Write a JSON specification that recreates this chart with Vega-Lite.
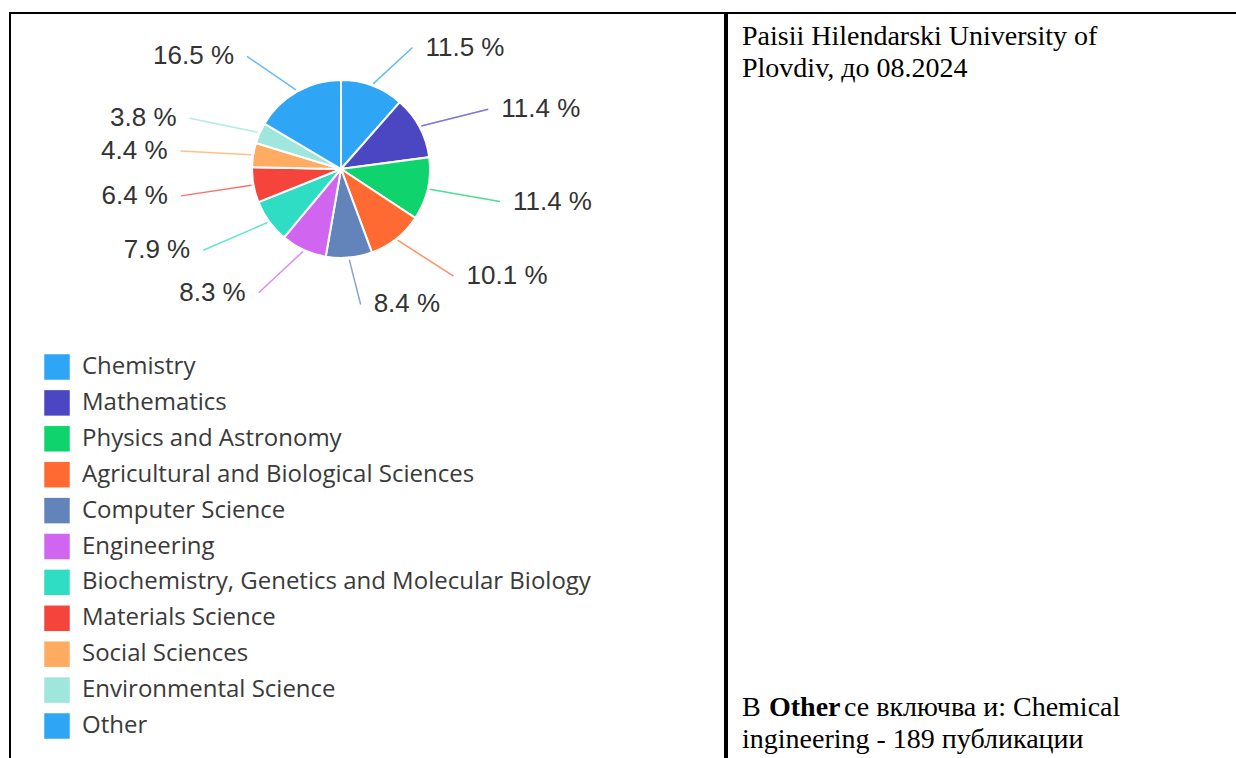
{
  "$schema": "https://vega.github.io/schema/vega-lite/v6.json",
  "padding": {"left": 9, "top": 12, "right": 0, "bottom": 0},
  "background": "white",
  "config": {
    "view": {"stroke": "#000000", "strokeWidth": 2},
    "concat": {"spacing": 0},
    "legend": {
      "orient": "none", "legendX": 34, "legendY": 341, "title": null,
      "symbolType": "square", "symbolSize": 650, "symbolStrokeWidth": 0, "symbolOpacity": 1,
      "labelFont": "Open Sans", "labelFontSize": 24, "labelColor": "#3a3a3a",
      "labelLimit": 800, "labelOffset": 12, "rowPadding": 9.9, "padding": 0
    }
  },
  "hconcat": [
    {
      "width": 715,
      "height": 760,
      "data": {
        "values": [
          {"subject": "Chemistry", "pct": 11.5},
          {"subject": "Mathematics", "pct": 11.4},
          {"subject": "Physics and Astronomy", "pct": 11.4},
          {"subject": "Agricultural and Biological Sciences", "pct": 10.1},
          {"subject": "Computer Science", "pct": 8.4},
          {"subject": "Engineering", "pct": 8.3},
          {"subject": "Biochemistry, Genetics and Molecular Biology", "pct": 7.9},
          {"subject": "Materials Science", "pct": 6.4},
          {"subject": "Social Sciences", "pct": 4.4},
          {"subject": "Environmental Science", "pct": 3.8},
          {"subject": "Other", "pct": 16.5}
        ]
      },
      "transform": [
        {"window": [{"op": "row_number", "as": "idx"}, {"op": "sum", "field": "pct", "as": "cum"}], "frame": [null, 0]},
        {"joinaggregate": [{"op": "sum", "field": "pct", "as": "total"}]},
        {"calculate": "2*PI*(datum.cum - datum.pct/2)/datum.total", "as": "mid"},
        {"calculate": "sin(datum.mid)", "as": "s"},
        {"calculate": "cos(datum.mid)", "as": "c"},
        {"calculate": "datum.s >= 0 ? 1 : -1", "as": "side"},
        {"calculate": "91*datum.s", "as": "x0"},
        {"calculate": "91*datum.c", "as": "y0"},
        {"calculate": "175*datum.side*pow(abs(datum.s), 0.7)", "as": "lx"},
        {"calculate": "133*datum.c - 3", "as": "ly"},
        {"calculate": "datum.lx - 13*datum.side", "as": "x1"},
        {"calculate": "format(datum.pct, '.1f') + ' %'", "as": "label"}
      ],
      "layer": [
        {
          "mark": {"type": "rule", "strokeWidth": 1.5, "opacity": 0.75},
          "encoding": {
            "x": {"field": "x0", "type": "quantitative", "scale": {"domain": [-331, 384], "nice": false, "zero": false}, "axis": null},
            "y": {"field": "y0", "type": "quantitative", "scale": {"domain": [-604, 156], "nice": false, "zero": false}, "axis": null},
            "x2": {"field": "x1"},
            "y2": {"field": "ly"},
            "color": {
              "field": "subject", "type": "nominal",
              "scale": {
                "domain": ["Chemistry", "Mathematics", "Physics and Astronomy", "Agricultural and Biological Sciences", "Computer Science", "Engineering", "Biochemistry, Genetics and Molecular Biology", "Materials Science", "Social Sciences", "Environmental Science", "Other"],
                "range": ["#2ea5f5", "#4b46c1", "#0fd46e", "#ff6a33", "#6384bb", "#d066ef", "#2fdcc4", "#f5443c", "#ffac62", "#9fe6dd", "#2ea5f5"]
              }
            }
          }
        },
        {
          "mark": {"type": "arc", "outerRadius": 89, "stroke": "white", "strokeWidth": 2},
          "encoding": {
            "x": {"datum": 0, "type": "quantitative"},
            "y": {"datum": 0, "type": "quantitative"},
            "theta": {"field": "pct", "type": "quantitative", "stack": true},
            "order": {"field": "idx", "type": "quantitative"},
            "color": {"field": "subject", "type": "nominal"}
          }
        },
        {
          "transform": [{"filter": "datum.side > 0"}],
          "mark": {"type": "text", "align": "left", "baseline": "middle", "font": "Liberation Sans", "fontSize": 26, "color": "#333333"},
          "encoding": {
            "x": {"field": "lx", "type": "quantitative"},
            "y": {"field": "ly", "type": "quantitative"},
            "text": {"field": "label"}
          }
        },
        {
          "transform": [{"filter": "datum.side < 0"}],
          "mark": {"type": "text", "align": "right", "baseline": "middle", "font": "Liberation Sans", "fontSize": 26, "color": "#333333"},
          "encoding": {
            "x": {"field": "lx", "type": "quantitative"},
            "y": {"field": "ly", "type": "quantitative"},
            "text": {"field": "label"}
          }
        }
      ]
    },
    {
      "width": 520,
      "height": 760,
      "data": {"values": [
        {"part": "title", "t": "Paisii Hilendarski University of\nPlovdiv, до 08.2024"},
        {"part": "b1", "t": "В"},
        {"part": "b2", "t": "Other"},
        {"part": "b3", "t": "се включва и: Chemical"},
        {"part": "b4", "t": "ingineering - 189 публикации"}
      ]},
      "layer": [
        {
          "transform": [{"filter": "datum.part == 'title'"}],
          "mark": {"type": "text", "align": "left", "baseline": "alphabetic", "font": "Liberation Serif", "fontSize": 28, "lineHeight": 32, "lineBreak": "\n", "color": "#000000"},
          "encoding": {"text": {"field": "t"}, "x": {"value": 15}, "y": {"value": 32}}
        },
        {
          "transform": [{"filter": "datum.part == 'b1'"}],
          "mark": {"type": "text", "align": "left", "baseline": "alphabetic", "font": "Liberation Serif", "fontSize": 28, "color": "#000000"},
          "encoding": {"text": {"field": "t"}, "x": {"value": 15}, "y": {"value": 703}}
        },
        {
          "transform": [{"filter": "datum.part == 'b2'"}],
          "mark": {"type": "text", "align": "left", "baseline": "alphabetic", "font": "Liberation Serif", "fontSize": 28, "fontWeight": "bold", "color": "#000000"},
          "encoding": {"text": {"field": "t"}, "x": {"value": 42}, "y": {"value": 703}}
        },
        {
          "transform": [{"filter": "datum.part == 'b3'"}],
          "mark": {"type": "text", "align": "left", "baseline": "alphabetic", "font": "Liberation Serif", "fontSize": 28, "color": "#000000"},
          "encoding": {"text": {"field": "t"}, "x": {"value": 117}, "y": {"value": 703}}
        },
        {
          "transform": [{"filter": "datum.part == 'b4'"}],
          "mark": {"type": "text", "align": "left", "baseline": "alphabetic", "font": "Liberation Serif", "fontSize": 28, "color": "#000000"},
          "encoding": {"text": {"field": "t"}, "x": {"value": 15}, "y": {"value": 735}}
        }
      ]
    }
  ]
}
